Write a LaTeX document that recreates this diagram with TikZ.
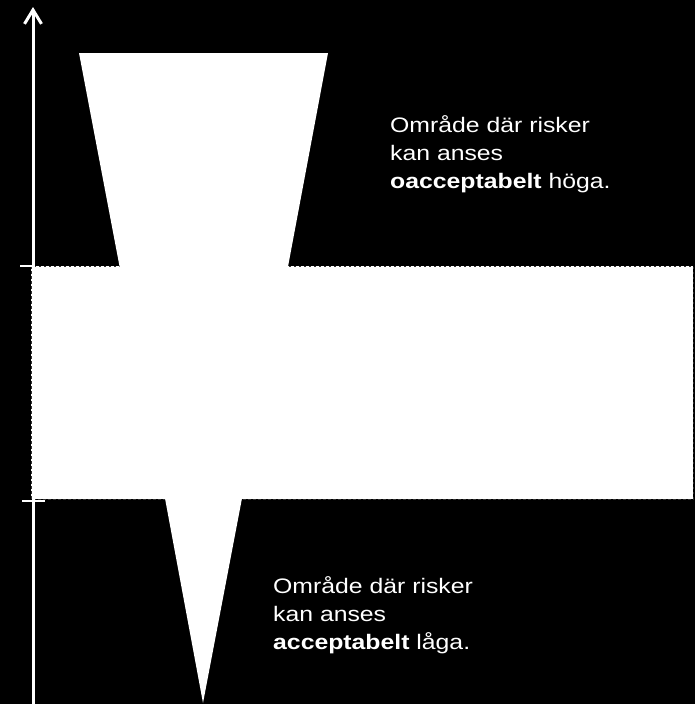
\documentclass[tikz,border=0pt]{standalone}
\usepackage{fontspec}
\newfontfamily\labfont[FakeStretch=1.18]{Liberation Sans}
\usetikzlibrary{arrows.meta}
\tikzset{
  whiteshape/.style={fill=white, draw=none},
  bandborder/.style={draw=black!80, line width=1pt, dash pattern=on 2.5pt off 2.5pt},
  axisline/.style={draw=white, line width=3pt, -{Straight Barb[length=14pt, width=17pt, line width=3pt]}},
  tickline/.style={draw=white, line width=2.5pt},
  lab/.style={text=white, font=\labfont\fontsize{21}{28}\selectfont, align=left, inner sep=0pt, anchor=base west}
}
\begin{document}
\begin{tikzpicture}[x=1pt, y=-1pt]
  % background
  \fill[black] (0,0) rectangle (695,704);
  \useasboundingbox (0,0) rectangle (695,704);
  % middle band
  \fill[white] (31,266) rectangle (693,499);
  \draw[bandborder] (31,266) rectangle (693,499);
  % upper funnel and lower spike
  \fill[whiteshape] (79,53) -- (328,53) -- (287,272) -- (120.6,272) -- cycle;
  \fill[whiteshape] (164,493) -- (243,493) -- (203,703) -- cycle;
  % axis
  \coordinate (axisbot) at (33,705);
  \coordinate (axistop) at (33,7);
  \draw[axisline] (axisbot) -- (axistop);
  % ticks
  \coordinate (t1a) at (20,266);
  \coordinate (t1b) at (33,266);
  \coordinate (t2a) at (22,501);
  \coordinate (t2b) at (45,501);
  \draw[tickline] (t1a) -- (t1b);
  \draw[tickline] (t2a) -- (t2b);
  % labels (base anchor = baseline of the last line)
  \node[lab] (upper) at (390,188) {Område där risker\\kan anses\\\textbf{oacceptabelt} höga.};
  \node[lab] (lower) at (273,649) {Område där risker\\kan anses\\\textbf{acceptabelt} låga.};
\end{tikzpicture}
\end{document}
